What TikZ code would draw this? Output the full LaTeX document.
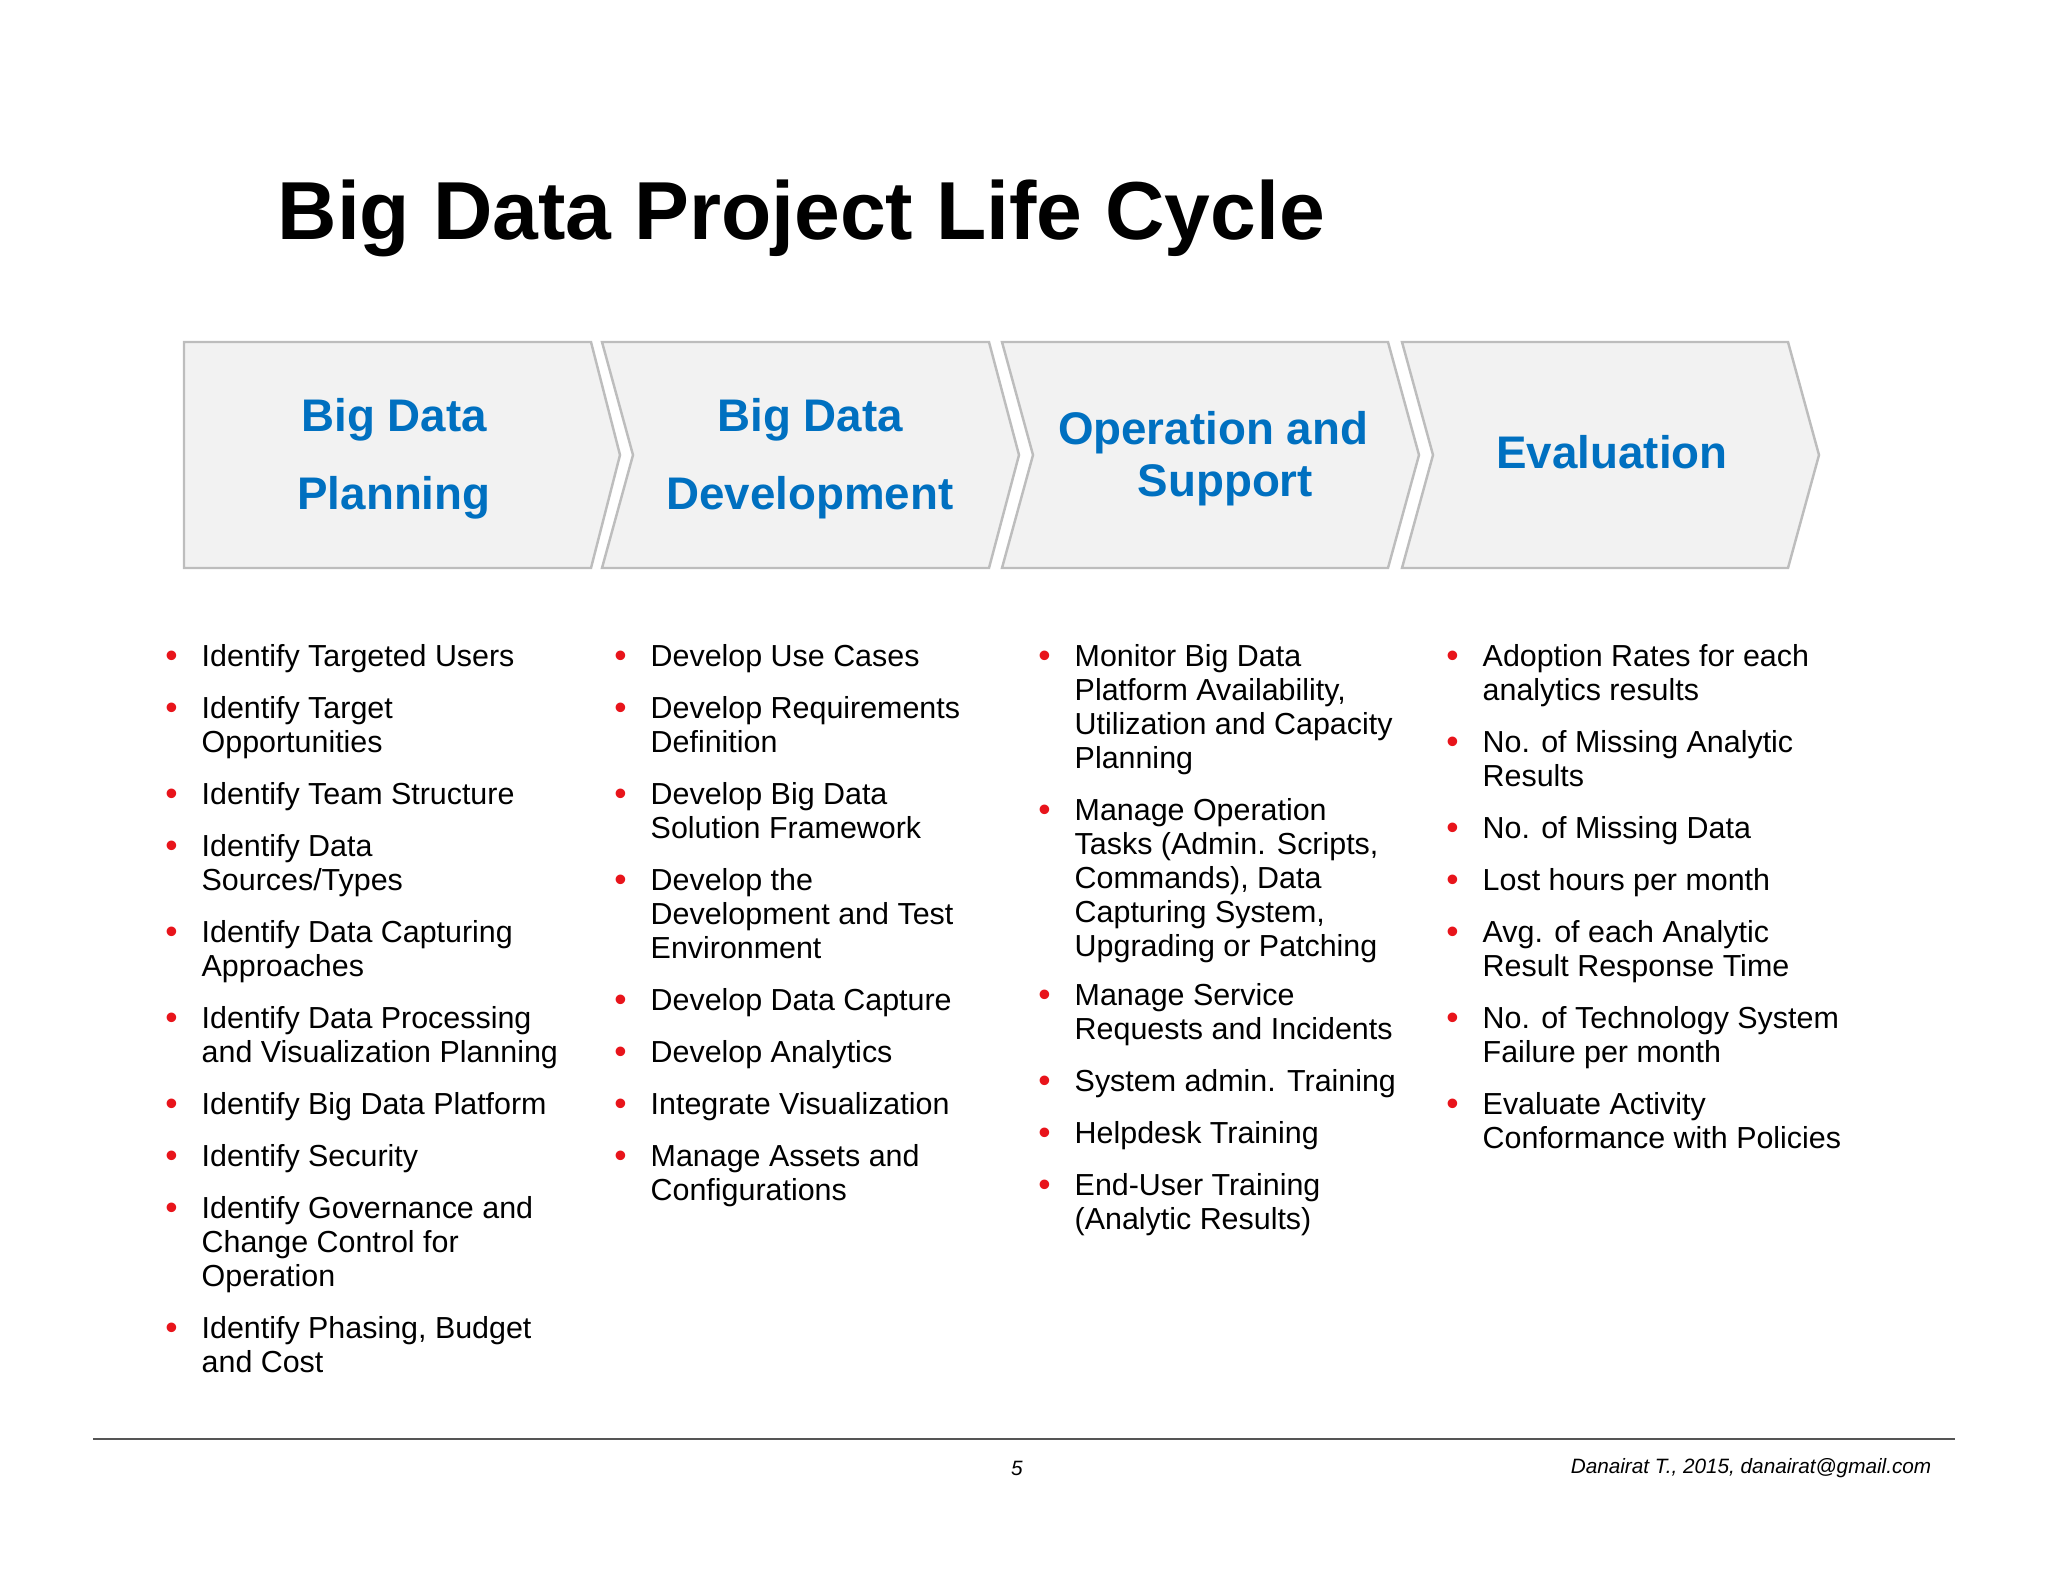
\documentclass[tikz,border=0pt]{standalone}
\usepackage{fontspec}
\setmainfont{Liberation Sans}
\usepackage{xcolor}
\usepackage{tikz}
\usetikzlibrary{positioning}

\definecolor{stageblue}{HTML}{0070C0}
\definecolor{chevfill}{HTML}{F2F2F2}
\definecolor{chevline}{HTML}{BDBDBD}
\definecolor{bulletred}{HTML}{E8141B}
\definecolor{footline}{HTML}{555555}

% red bullet hanging left of each item
\newcommand{\bul}{\llap{\raisebox{-0.3pt}{\textcolor{bulletred}{\fontsize{10}{10}\selectfont\textbullet}}\hspace{6.8pt}}}
\newcommand{\gap}{\\[5.1pt]}

\begin{document}
\begin{tikzpicture}[
    x=0.01cm, y=-0.01cm,
    chev/.style={fill=chevfill, draw=chevline, line width=0.7pt},
    stage/.style={
        font=\fontsize{13}{14.8}\selectfont\bfseries,
        text=stageblue,
        align=center,
        inner sep=0pt,
        anchor=north
    },
    items/.style={
        font=\fontsize{8.65}{9.67}\selectfont,
        align=left,
        anchor=north west,
        inner sep=0pt
    },
    foot/.style={font=\fontsize{5.9}{7}\selectfont\itshape, inner sep=0pt}
]
\useasboundingbox (0,0) rectangle (2048,1582);

\node (title) [anchor=base west, inner sep=0pt, font=\fontsize{23.4}{28}\selectfont\bfseries] at (277,240) {Big Data Project Life Cycle};

% stage chevrons
\draw[chev] (184,342) -- (591,342) -- (620,455) -- (591,568) -- (184,568) -- cycle;
\draw[chev] (602,342) -- (989,342) -- (1019,455) -- (989,568) -- (602,568) -- (633,455) -- cycle;
\draw[chev] (1002,342) -- (1388,342) -- (1419,455) -- (1388,568) -- (1002,568) -- (1033,455) -- cycle;
\draw[chev] (1402,342) -- (1788,342) -- (1819,455) -- (1788,568) -- (1402,568) -- (1433,455) -- cycle;

\node (planning) [stage, font=\fontsize{13}{22.2}\selectfont\bfseries] at (394,398) {Big Data\\Planning};
\node (development) [stage, font=\fontsize{13}{22.2}\selectfont\bfseries] at (810,398) {Big Data\\Development};
\node (operation) [stage] at (1213,411) {Operation and\\\hspace*{7pt}Support};
\node (evaluation) [stage] at (1612,435) {Evaluation};

% activity lists
\node (planitems) [items] at (201,644) {%
\bul Identify Targeted Users\gap
\bul Identify Target\\Opportunities\gap
\bul Identify Team Structure\gap
\bul Identify Data\\Sources/Types\gap
\bul Identify Data Capturing\\Approaches\gap
\bul Identify Data Processing\\and Visualization Planning\gap
\bul Identify Big Data Platform\gap
\bul Identify Security\gap
\bul Identify Governance and\\Change Control for\\Operation\gap
\bul Identify Phasing, Budget\\and Cost};

\node (devitems) [items] at (650,644) {%
\bul Develop Use Cases\gap
\bul Develop Requirements\\Definition\gap
\bul Develop Big Data\\Solution Framework\gap
\bul Develop the\\Development and Test\\Environment\gap
\bul Develop Data Capture\gap
\bul Develop Analytics\gap
\bul Integrate Visualization\gap
\bul Manage Assets and\\Configurations};

\node (opsitems) [items] at (1074,644) {%
\bul Monitor Big Data\\Platform Availability,\\Utilization and Capacity\\Planning\gap
\bul Manage Operation\\Tasks (Admin. Scripts,\\Commands), Data\\Capturing System,\\Upgrading or Patching\\[4.3pt]
\bul Manage Service\\Requests and Incidents\gap
\bul System admin. Training\gap
\bul Helpdesk Training\gap
\bul End-User Training\\(Analytic Results)};

\node (evalitems) [items] at (1482,644) {%
\bul Adoption Rates for each\\analytics results\gap
\bul No. of Missing Analytic\\Results\gap
\bul No. of Missing Data\gap
\bul Lost hours per month\gap
\bul Avg. of each Analytic\\Result Response Time\gap
\bul No. of Technology System\\Failure per month\gap
\bul Evaluate Activity\\Conformance with Policies};

% footer
\coordinate (lineL) at (93,1439);
\coordinate (lineR) at (1955,1439);
\draw[footline, line width=0.6pt] (lineL) -- (lineR);
\node (page) [foot] at (1017,1468) {5};
\node (author) [foot, anchor=east] at (1932,1468) {Danairat T., 2015, danairat@gmail.com};

\end{tikzpicture}
\end{document}
